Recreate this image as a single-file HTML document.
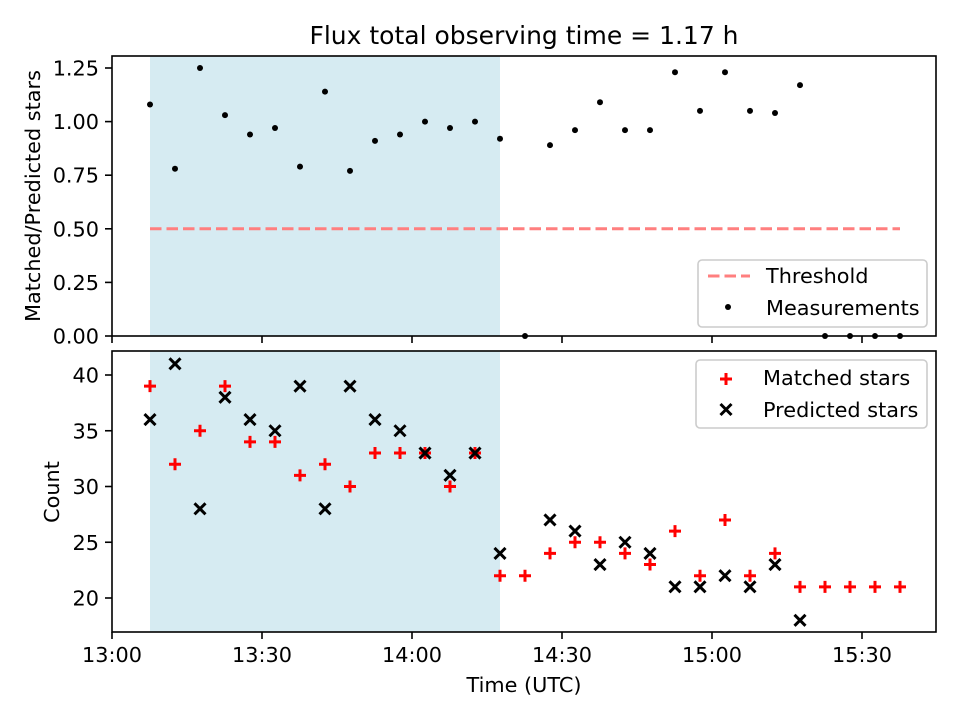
<!DOCTYPE html>
<html><head><meta charset="utf-8"><style>
body{margin:0;background:#fff}
svg{font-family:"DejaVu Sans",sans-serif}
</style></head><body>
<svg id="c" width="960" height="720" viewBox="0 0 960 720"></svg>
<script>
const minutes=[];for(let i=0;i<31;i++)minutes.push(7.6+5*i);
const ratio=[1.08,0.78,1.25,1.03,0.94,0.97,0.79,1.14,0.77,0.91,0.94,1.00,0.97,1.00,0.92,0.00,0.89,0.96,1.09,0.96,0.96,1.23,1.05,1.23,1.05,1.04,1.17,0,0,0,0];
const matched=[39,32,35,39,34,34,31,32,30,33,33,33,30,33,22,22,24,25,25,24,23,26,22,27,22,24,21,21,21,21,21];
const predicted=[36,41,28,38,36,35,39,28,39,36,35,33,31,33,24,null,27,26,23,25,24,21,21,22,21,23,18,null,null,null,null];
const threshold=0.5;
const shadeStart=7.6, shadeEnd=77.6;
const xTickMin=[0,30,60,90,120,150];
const xTickLab=["13:00","13:30","14:00","14:30","15:00","15:30"];
const yTopTicks=[0,0.25,0.5,0.75,1.0,1.25];
const yBotTicks=[20,25,30,35,40];

const S=document.getElementById('c');const NS='http://www.w3.org/2000/svg';
function el(t,a,p){const e=document.createElementNS(NS,t);for(const k in a)e.setAttribute(k,a[k]);(p||S).appendChild(e);return e;}
const X=m=>112+m*5;
const Yt=v=>336-v*214.4;
const Yb=v=>598-(v-20)*11.15;

let r=el('rect',{x:X(shadeStart),y:56,width:X(shadeEnd)-X(shadeStart),height:280,fill:'#add8e6','fill-opacity':0.5});

r=el('rect',{x:X(shadeStart),y:351,width:X(shadeEnd)-X(shadeStart),height:281,fill:'#add8e6','fill-opacity':0.5});


let l=el('line',{x1:X(minutes[0]),x2:X(minutes[30]),y1:Yt(threshold),y2:Yt(threshold),stroke:'#ff7f7f','stroke-width':3,'stroke-dasharray':'11.5,5'});


ratio.forEach((v,i)=>{const c=el('circle',{cx:X(minutes[i]),cy:Yt(v),r:3,fill:'#000'});
});

matched.forEach((v,i)=>{if(v==null)return;const x=X(minutes[i]),y=Yb(v);
const g=el('path',{d:`M${x-6},${y}H${x+6}M${x},${y-6}V${y+6}`,stroke:'#f00','stroke-width':3});
});
predicted.forEach((v,i)=>{if(v==null)return;const x=X(minutes[i]),y=Yb(v);
const g=el('path',{d:`M${x-5.5},${y-5.5}L${x+5.5},${y+5.5}M${x-5.5},${y+5.5}L${x+5.5},${y-5.5}`,stroke:'#000','stroke-width':3});
});

r=el('rect',{x:112,y:56,width:824,height:280,fill:'none',stroke:'#000','stroke-width':1.6});

r=el('rect',{x:112,y:351,width:824,height:281,fill:'none',stroke:'#000','stroke-width':1.6});


xTickMin.forEach((m,i)=>{const x=X(m);
el('line',{x1:x,x2:x,y1:336,y2:343,stroke:'#000','stroke-width':1.6});
el('line',{x1:x,x2:x,y1:632,y2:639,stroke:'#000','stroke-width':1.6});
const t=el('text',{x:x,y:662,'text-anchor':'middle','font-size':20.8});t.textContent=xTickLab[i];
});
yTopTicks.forEach(v=>{const y=Yt(v);el('line',{x1:105,x2:112,y1:y,y2:y,stroke:'#000','stroke-width':1.6});
const t=el('text',{x:99,y:y+7.5,'text-anchor':'end','font-size':20.8});t.textContent=v.toFixed(2);
});
yBotTicks.forEach(v=>{const y=Yb(v);el('line',{x1:105,x2:112,y1:y,y2:y,stroke:'#000','stroke-width':1.6});
const t=el('text',{x:99,y:y+7.5,'text-anchor':'end','font-size':20.8});t.textContent=v;
});
</script>
<svg style="position:absolute;left:0;top:0" width="960" height="720">
<text x="524" y="44" text-anchor="middle" font-size="25" font-family="DejaVu Sans">Flux total observing time = 1.17 h</text>
<text x="524" y="692" text-anchor="middle" font-size="20.8" font-family="DejaVu Sans">Time (UTC)</text>
<text transform="translate(40,196) rotate(-90)" text-anchor="middle" font-size="20.8" font-family="DejaVu Sans">Matched/Predicted stars</text>
<text transform="translate(59,492) rotate(-90)" text-anchor="middle" font-size="20.8" font-family="DejaVu Sans">Count</text>
<g>
<rect x="698" y="260" width="229" height="67" rx="4" fill="#fff" fill-opacity="0.85" stroke="#ccc" stroke-width="1.6"/>
<line x1="708" y1="276" x2="750" y2="276" stroke="#ff7f7f" stroke-width="3" stroke-dasharray="11.5,5"/>
<text x="766" y="283" font-size="20.8" font-family="DejaVu Sans">Threshold</text>
<circle cx="728" cy="307" r="3" fill="#000"/>
<text x="766" y="315" font-size="20.8" font-family="DejaVu Sans">Measurements</text>
</g>
<g>
<rect x="696" y="360" width="231" height="68" rx="4" fill="#fff" fill-opacity="0.85" stroke="#ccc" stroke-width="1.6"/>
<path d="M720,379H732M726,373V385" stroke="#f00" stroke-width="3"/>
<text x="763" y="385" font-size="20.8" font-family="DejaVu Sans">Matched stars</text>
<path d="M720.5,404L731.5,415M720.5,415L731.5,404" stroke="#000" stroke-width="3"/>
<text x="763" y="417" font-size="20.8" font-family="DejaVu Sans">Predicted stars</text>
</g>
</svg>
</body></html>
